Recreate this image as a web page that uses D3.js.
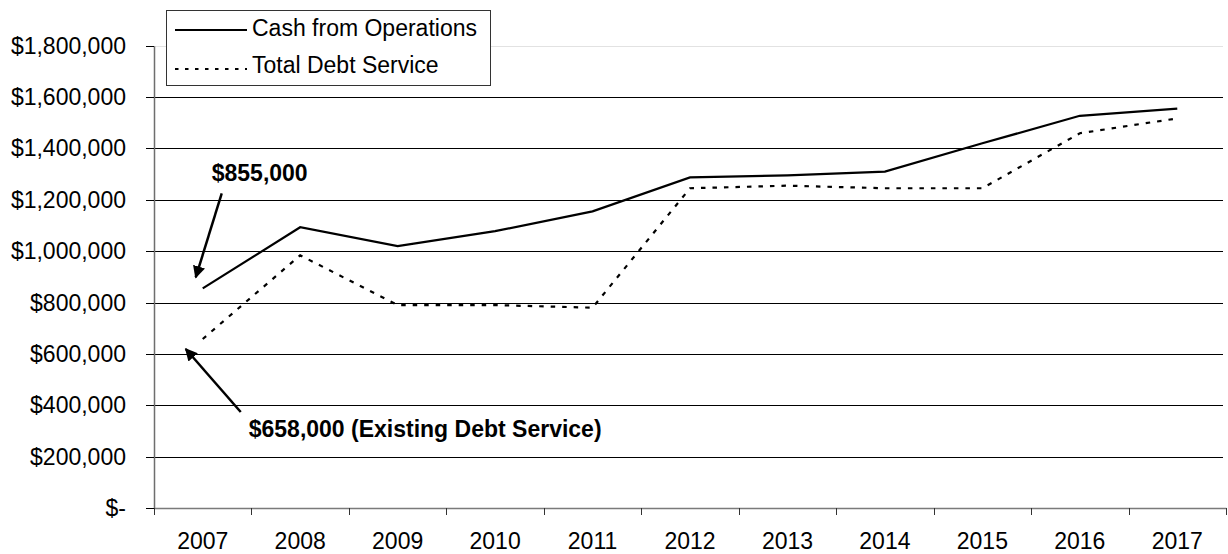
<!DOCTYPE html>
<html>
<head>
<meta charset="utf-8">
<script src="https://cdn.jsdelivr.net/npm/d3@7"></script>
<style>
  html, body { margin: 0; padding: 0; background: #fff; }
  svg { display: block; font-family: Arial, "Liberation Sans", sans-serif; }
</style>
</head>
<body>
<svg id="chart" width="1228" height="554"></svg>
<script>
const years = ["2007","2008","2009","2010","2011","2012","2013","2014","2015","2016","2017"];
const cashFromOperations = [855000,1093000,1020000,1078000,1155000,1287000,1295000,1310000,1420000,1527000,1555000];
const totalDebtService   = [658000,984000,790000,790000,780000,1245000,1255000,1245000,1245000,1459000,1517000];
const yTicks = [0,200000,400000,600000,800000,1000000,1200000,1400000,1600000,1800000];
const seriesNames = ["Cash from Operations","Total Debt Service"];
const annotations = [
  { text: "$855,000", series: 0, index: 0 },
  { text: "$658,000 (Existing Debt Service)", series: 1, index: 0 }
];

(function () {
const svg = d3.select("#chart");
const mLeft = 154, mRight = 1226, mTop = 45.7, mBottom = 508;
const FS = 23;

const x = d3.scaleBand().domain(years).range([mLeft, mRight]).padding(0);
const y = d3.scaleLinear().domain([0, 1800000]).range([mBottom, mTop]);
const yc = d => Math.round(y(d)) + 0.5;

// gridlines
svg.append("g").selectAll("line").data(yTicks.filter(d => d > 0)).join("line")
  .attr("x1", mLeft).attr("x2", mRight - 3)
  .attr("y1", yc).attr("y2", yc)
  .attr("stroke", d => d === 1800000 ? "#e2e2e2" : "#000")
  .attr("stroke-width", 1);

// y axis
const fmt = d => d === 0 ? "$-" : "$" + d3.format(",")(d);
const yAxis = svg.append("g").attr("transform", `translate(${mLeft},0)`)
  .call(d3.axisLeft(y).tickValues(yTicks).tickFormat(fmt).tickSize(8).tickPadding(20).tickSizeOuter(0));
yAxis.select(".domain").attr("stroke", "#6e6e6e").attr("stroke-width", 1.5);
yAxis.selectAll(".tick").attr("transform", d => `translate(0,${yc(d)})`);
yAxis.selectAll(".tick line").attr("stroke", "#000").attr("stroke-width", 1);
yAxis.selectAll("text").attr("font-size", FS).attr("fill", "#000");

// x axis
const xAxis = svg.append("g").attr("transform", `translate(0,${mBottom})`)
  .call(d3.axisBottom(x).tickSize(0).tickPadding(25).tickSizeOuter(0));
xAxis.select(".domain").attr("stroke", "#7a7a7a").attr("stroke-width", 1.5);
xAxis.selectAll("text").attr("font-size", FS).attr("fill", "#000");
const bounds = years.map(d => x(d)).concat([x(years[years.length-1]) + x.bandwidth()]);
xAxis.append("g").selectAll("line").data(bounds).join("line")
  .attr("x1", d => Math.round(d) + 0.5).attr("x2", d => Math.round(d) + 0.5).attr("y1", 0).attr("y2", 7)
  .attr("stroke", "#333").attr("stroke-width", 1);

const cx = d => x(d) + x.bandwidth() / 2;
const line = d3.line().x(d => cx(d[0])).y(d => y(d[1]));

svg.append("path").datum(years.map((d,i) => [d, cashFromOperations[i]]))
  .attr("d", line).attr("fill", "none").attr("stroke", "#000").attr("stroke-width", 2.2);
svg.append("path").datum(years.map((d,i) => [d, totalDebtService[i]]))
  .attr("d", line).attr("fill", "none").attr("stroke", "#000").attr("stroke-width", 2.2)
  .attr("stroke-dasharray", "4.5,7");

// legend
const lg = svg.append("g");
lg.append("rect").attr("x", 166.5).attr("y", 10.5).attr("width", 324).attr("height", 75)
  .attr("fill", "#fff").attr("stroke", "#333").attr("stroke-width", 1);
const rows = [{ y: 30, tb: 36, dash: null }, { y: 69, tb: 73, dash: "3.5,6.5" }];
seriesNames.forEach((n, i) => {
  const r = rows[i];
  const l = lg.append("line").attr("x1", 175).attr("x2", 247).attr("y1", r.y).attr("y2", r.y)
    .attr("stroke", "#000").attr("stroke-width", 2);
  if (r.dash) l.attr("stroke-dasharray", r.dash);
  lg.append("text").attr("x", 252).attr("y", r.tb).attr("font-size", FS).text(n);
});

// annotations
const defs = svg.append("defs");
defs.append("marker").attr("id", "arr").attr("viewBox", "0 0 10 10")
  .attr("refX", 9).attr("refY", 5).attr("markerWidth", 5).attr("markerHeight", 5)
  .attr("markerUnits", "strokeWidth").attr("orient", "auto")
  .append("path").attr("d", "M0,0 L10,5 L0,10 z").attr("fill", "#000");

const a0 = annotations[0];
const p0 = [cx(years[a0.index]), y(cashFromOperations[a0.index])];
svg.append("line").attr("x1", p0[0] + 19).attr("y1", p0[1] - 95)
  .attr("x2", p0[0] - 7).attr("y2", p0[1] - 11)
  .attr("stroke", "#000").attr("stroke-width", 2.5).attr("marker-end", "url(#arr)");
svg.append("text").attr("x", p0[0] + 9).attr("y", p0[1] - 107)
  .attr("font-size", FS).attr("font-weight", "bold").text(a0.text);

const a1 = annotations[1];
const p1 = [cx(years[a1.index]), y(totalDebtService[a1.index])];
svg.append("line").attr("x1", p1[0] + 38).attr("y1", p1[1] + 73)
  .attr("x2", p1[0] - 17).attr("y2", p1[1] + 10)
  .attr("stroke", "#000").attr("stroke-width", 2.5).attr("marker-end", "url(#arr)");
svg.append("text").attr("x", p1[0] + 46).attr("y", p1[1] + 98)
  .attr("font-size", FS).attr("font-weight", "bold").text(a1.text);
})();
</script>
</body>
</html>
